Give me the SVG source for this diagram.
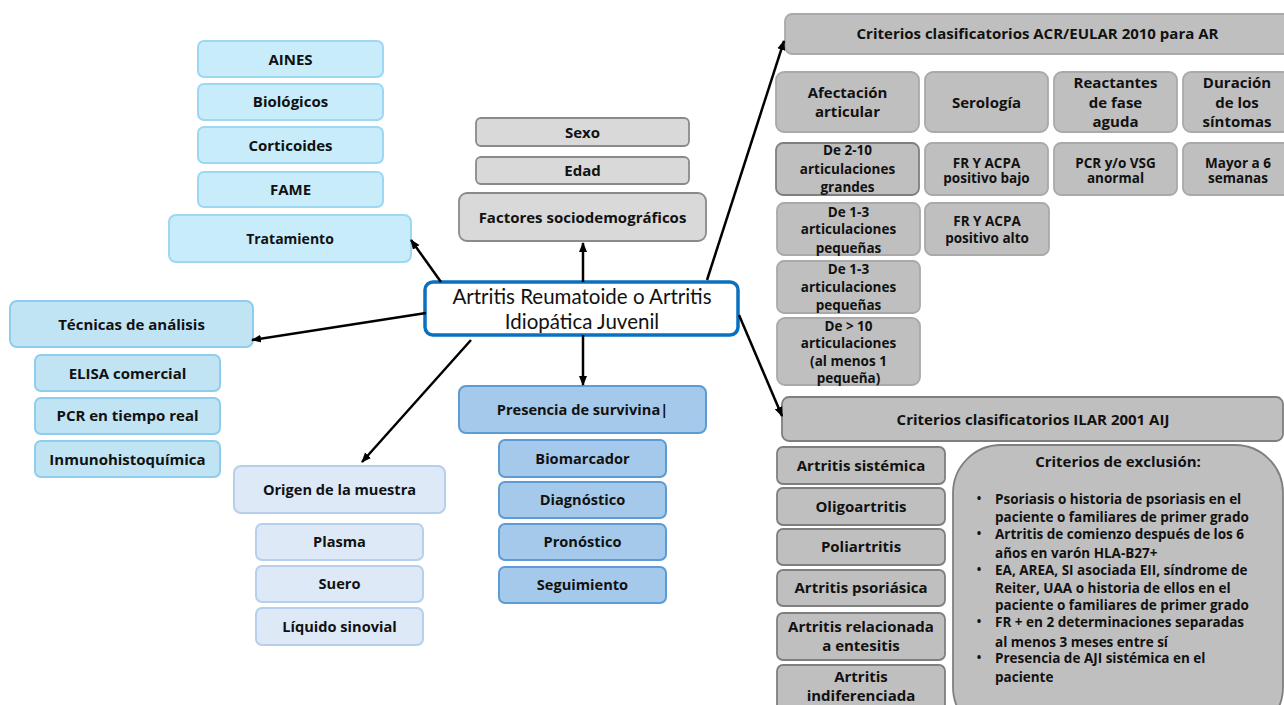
<svg xmlns="http://www.w3.org/2000/svg" width="1284" height="705" viewBox="0 0 1284 705">
<defs>
<marker id="arr" markerWidth="10" markerHeight="10" refX="9" refY="5" orient="auto" markerUnits="userSpaceOnUse">
<path d="M0,1 L10,5 L0,9 Z" fill="#000"/>
</marker>
<style>
text{font-family:"Open Sans","Liberation Sans",Arial,sans-serif;font-weight:700;fill:#111;text-anchor:middle;font-size:15px}
.t14{font-size:14px}
.t145{font-size:14.6px}
.t13{font-size:13.5px}
.t12{font-size:13.5px;text-anchor:start}
.bu{font-size:12px;text-anchor:middle}
.main{font-family:Lato,"Liberation Sans",Arial,sans-serif;font-weight:400;font-size:20.5px}
.trat{fill:#c8ecfa;stroke:#9cd8f2;stroke-width:2}
.tec{fill:#c1e4f5;stroke:#8ecdee;stroke-width:2}
.soc{fill:#d9d9d9;stroke:#8a8a8a;stroke-width:1.8}
.sur{fill:#a5c9eb;stroke:#5d9bd6;stroke-width:2}
.ori{fill:#dde9f6;stroke:#b5cfec;stroke-width:2}
.gr{fill:#bfbfbf;stroke:#a9a9a9;stroke-width:1.8}
.gd{fill:#bfbfbf;stroke:#7f7f7f;stroke-width:1.8}
.conn line{stroke:#000;stroke-width:2.5;marker-end:url(#arr)}
</style>
</defs>
<rect width="1284" height="705" fill="#fff"/>

<g id="tratamiento">
<rect class="trat" x="198" y="41" width="185" height="36" rx="6"/><text x="290.5" y="64.5">AINES</text>
<rect class="trat" x="198" y="84" width="185" height="36" rx="6"/><text x="290.5" y="107">Biológicos</text>
<rect class="trat" x="198" y="127" width="185" height="36" rx="6"/><text x="290.5" y="150.5">Corticoides</text>
<rect class="trat" x="198" y="172" width="185" height="35" rx="6"/><text x="290.5" y="195">FAME</text>
<rect class="trat" x="169" y="215" width="242" height="47" rx="7"/><text class="t14" x="290" y="243.5">Tratamiento</text>
</g>

<g id="tecnicas">
<rect class="tec" x="10" y="301" width="243" height="46" rx="7"/><text x="131.5" y="329.5">Técnicas de análisis</text>
<rect class="tec" x="35" y="355" width="185" height="36" rx="6"/><text x="127.5" y="378.5">ELISA comercial</text>
<rect class="tec" x="35" y="398" width="185" height="36" rx="6"/><text x="127.5" y="421">PCR en tiempo real</text>
<rect class="tec" x="35" y="441" width="185" height="36" rx="6"/><text x="127.5" y="464.5">Inmunohistoquímica</text>
</g>

<g id="sociodemograficos">
<rect class="soc" x="476" y="118" width="213" height="28" rx="5"/><text x="582.5" y="137.5">Sexo</text>
<rect class="soc" x="476" y="157" width="213" height="27" rx="5"/><text x="582.5" y="176">Edad</text>
<rect class="soc" x="459" y="193" width="247" height="48" rx="8"/><text x="582.5" y="222.5">Factores sociodemográficos</text>
</g>

<g id="main">
<rect x="425" y="282" width="313" height="53" rx="8" fill="#fff" stroke="#0a70c0" stroke-width="3.5"/>
<text class="main" x="582" y="304">Artritis Reumatoide o Artritis</text>
<text class="main" x="582" y="329">Idiopática Juvenil</text>
</g>

<g id="survivina">
<rect class="sur" x="459" y="386" width="247" height="47" rx="7"/><text class="t145" x="582.5" y="414.5">Presencia de survivina|</text>
<rect class="sur" x="499" y="440" width="167" height="37" rx="6"/><text class="t145" x="582.5" y="463.5">Biomarcador</text>
<rect class="sur" x="499" y="482" width="167" height="36" rx="6"/><text class="t145" x="582.5" y="505">Diagnóstico</text>
<rect class="sur" x="499" y="524" width="167" height="36" rx="6"/><text class="t145" x="582.5" y="547">Pronóstico</text>
<rect class="sur" x="499" y="567" width="167" height="36" rx="6"/><text class="t145" x="582.5" y="590">Seguimiento</text>
</g>

<g id="origen">
<rect class="ori" x="234" y="466" width="211" height="47" rx="7"/><text class="t145" x="339.5" y="494.5">Origen de la muestra</text>
<rect class="ori" x="256" y="524" width="167" height="36" rx="6"/><text class="t145" x="339.5" y="547">Plasma</text>
<rect class="ori" x="256" y="566" width="167" height="36" rx="6"/><text class="t145" x="339.5" y="589">Suero</text>
<rect class="ori" x="256" y="608" width="167" height="37" rx="6"/><text class="t145" x="339.5" y="631.5">Líquido sinovial</text>
</g>

<g id="acr">
<rect class="gr" x="785" y="14" width="510" height="40" rx="7"/><text x="1037.5" y="39">Criterios clasificatorios ACR/EULAR 2010 para AR</text>
<rect class="gr" x="776" y="72" width="143" height="60" rx="8"/><text x="847.5" y="98">Afectación</text><text x="847.5" y="117">articular</text>
<rect class="gr" x="925" y="72" width="123" height="60" rx="8"/><text x="986.5" y="107.5">Serología</text>
<rect class="gr" x="1054" y="72" width="123" height="60" rx="8"/><text x="1115.5" y="88">Reactantes</text><text x="1115.5" y="108">de fase</text><text x="1115.5" y="127">aguda</text>
<rect class="gr" x="1183" y="72" width="108" height="60" rx="8"/><text x="1237" y="88">Duración</text><text x="1237" y="108">de los</text><text x="1237" y="127">síntomas</text>
<rect class="gd" x="776" y="143" width="143" height="52" rx="7"/><text class="t13" x="847.5" y="155">De 2-10</text><text class="t13" x="847.5" y="174">articulaciones</text><text class="t13" x="847.5" y="192">grandes</text>
<rect class="gr" x="925" y="143" width="123" height="52" rx="7"/><text class="t13" x="986.5" y="167.5">FR Y ACPA</text><text class="t13" x="986.5" y="183">positivo bajo</text>
<rect class="gr" x="1054" y="143" width="123" height="52" rx="7"/><text class="t13" x="1115.5" y="167.5">PCR y/o VSG</text><text class="t13" x="1115.5" y="183">anormal</text>
<rect class="gr" x="1183" y="143" width="108" height="52" rx="7"/><text class="t13" x="1238" y="167.5">Mayor a 6</text><text class="t13" x="1238" y="183">semanas</text>
<rect class="gr" x="777" y="203" width="143" height="52" rx="7"/><text class="t13" x="848.5" y="216.5">De 1-3</text><text class="t13" x="848.5" y="234">articulaciones</text><text class="t13" x="848.5" y="252.5">pequeñas</text>
<rect class="gr" x="925" y="203" width="124" height="52" rx="7"/><text class="t13" x="987" y="225.5">FR Y ACPA</text><text class="t13" x="987" y="242.5">positivo alto</text>
<rect class="gr" x="777" y="261" width="143" height="52" rx="7"/><text class="t13" x="848.5" y="273.5">De 1-3</text><text class="t13" x="848.5" y="291.5">articulaciones</text><text class="t13" x="848.5" y="309.5">pequeñas</text>
<rect class="gr" x="777" y="318" width="143" height="67" rx="8"/><text class="t13" x="848.5" y="330.5">De &gt; 10</text><text class="t13" x="848.5" y="347.5">articulaciones</text><text class="t13" x="848.5" y="365.5">(al menos 1</text><text class="t13" x="848.5" y="382.5">pequeña)</text>
</g>

<g id="ilar">
<rect class="gd" x="782" y="397" width="501" height="44" rx="7"/><text x="1033" y="425">Criterios clasificatorios ILAR 2001 AIJ</text>
<rect class="gd" x="777" y="447" width="168" height="37" rx="6"/><text x="861" y="471">Artritis sistémica</text>
<rect class="gd" x="777" y="488" width="168" height="37" rx="6"/><text x="861" y="512">Oligoartritis</text>
<rect class="gd" x="777" y="529" width="168" height="36" rx="6"/><text x="861" y="552">Poliartritis</text>
<rect class="gd" x="777" y="570" width="168" height="36" rx="6"/><text x="861" y="593">Artritis psoriásica</text>
<rect class="gd" x="777" y="613" width="168" height="47" rx="6"/><text x="861" y="632">Artritis relacionada</text><text x="861" y="651">a entesitis</text>
<rect class="gd" x="777" y="665" width="168" height="50" rx="6"/><text x="861" y="682">Artritis</text><text x="861" y="701">indiferenciada</text>
</g>

<g id="exclusion">
<rect class="gd" x="953" y="445" width="330" height="290" rx="48"/>
<text x="1118" y="467">Criterios de exclusión:</text>
<text class="bu" x="979" y="502.5">•</text><text class="bu" x="979" y="537.5">•</text><text class="bu" x="979" y="573.5">•</text><text class="bu" x="979" y="625.5">•</text><text class="bu" x="979" y="661.5">•</text>
<text class="t12" x="995" y="503.5">Psoriasis o historia de psoriasis en el</text>
<text class="t12" x="995" y="521.5">paciente o familiares de primer grado</text>
<text class="t12" x="995" y="538.5">Artritis de comienzo después de los 6</text>
<text class="t12" x="995" y="557.5">años en varón HLA-B27+</text>
<text class="t12" x="995" y="574.5">EA, AREA, SI asociada EII, síndrome de</text>
<text class="t12" x="995" y="592.5">Reiter, UAA o historia de ellos en el</text>
<text class="t12" x="995" y="609.5">paciente o familiares de primer grado</text>
<text class="t12" x="995" y="626.5">FR + en 2 determinaciones separadas</text>
<text class="t12" x="995" y="646.5">al menos 3 meses entre sí</text>
<text class="t12" x="995" y="662.5">Presencia de AJI sistémica en el</text>
<text class="t12" x="995" y="681.5">paciente</text>
</g>

<g id="connectors" class="conn">
<line x1="441" y1="282" x2="411" y2="240"/>
<line x1="426" y1="313" x2="252" y2="340"/>
<line x1="583" y1="282" x2="583" y2="243"/>
<line x1="583" y1="335" x2="583" y2="385"/>
<line x1="471" y1="340" x2="362" y2="462"/>
<line x1="707" y1="280" x2="784" y2="41"/>
<line x1="739" y1="315" x2="782" y2="416"/>
</g>
</svg>
